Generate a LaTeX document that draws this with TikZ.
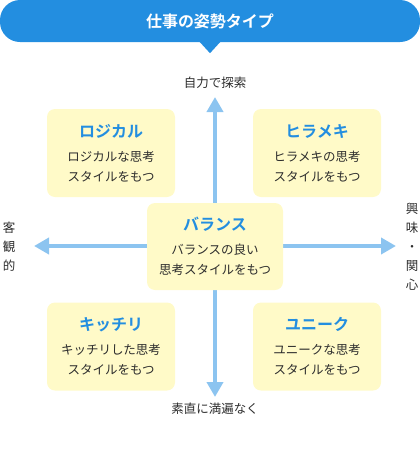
\documentclass[tikz,border=0pt]{standalone}
\usepackage{fontspec}
\setmainfont{Noto Sans CJK JP}[BoldFont={Noto Sans CJK JP Bold}]
\usepackage{xcolor}
\usepackage{tikz}
\usetikzlibrary{arrows.meta, positioning}
\definecolor{accent}{RGB}{35, 142, 224}
\definecolor{axisblue}{RGB}{140, 196, 240}
\definecolor{boxfill}{RGB}{255, 250, 200}
\definecolor{ink}{RGB}{45, 45, 45}
\newcommand{\qtitle}[1]{{\fontsize{16}{20}\selectfont\bfseries\color{accent}#1}}

\begin{document}
\begin{tikzpicture}[
    x=1pt, y=-1pt,
    quad/.style={
      rectangle, fill=boxfill, rounded corners=8pt,
      minimum width=128pt, minimum height=88pt, inner sep=0pt,
      text centered, font=\fontsize{12.5}{20}\selectfont,
      text=ink, align=center
    },
    banner/.style={
      rectangle, fill=accent, rounded corners=20pt,
      minimum width=420pt, minimum height=42pt,
      font=\fontsize{16}{20}\selectfont\bfseries, text=white
    },
    axis/.style={{Triangle[width=16pt, length=15pt]}-{Triangle[width=16pt, length=15pt]},
      line width=4pt, color=axisblue},
    side/.style={font=\fontsize{12.5}{19}\selectfont, text=ink, align=center}
  ]
  \useasboundingbox (0,0) rectangle (420,464);

  % ── Heading banner ─────────────────────────────────────────────
  \node[banner] (head) at (210,21) {仕事の姿勢タイプ};
  \fill[accent] ([xshift=-11pt, yshift=1pt]head.south) -- ([yshift=-11pt]head.south)
    -- ([xshift=11pt, yshift=1pt]head.south) -- cycle;

  % ── Axes ───────────────────────────────────────────────────────
  \coordinate (top) at (215,97);
  \coordinate (bot) at (215,397);
  \coordinate (lft) at (34,246);
  \coordinate (rgt) at (396,246);

  \draw[axis] (bot) -- (top);
  \draw[axis] (lft) -- (rgt);

  % ── Axis labels ────────────────────────────────────────────────
  \node[side] (up)    at (215,83)  {自力で探索};
  \node[side] (down)  at (215,409) {素直に満遍なく};
  \node[side] (obj)   at (9,247)   {客\\観\\的};
  \node[side] (inter) at (412,247) {興\\味\\・\\関\\心};

  % ── Quadrant boxes ─────────────────────────────────────────────
  \node[quad] (logic)   at (111,153) {\qtitle{ロジカル}\\[4pt]ロジカルな思考\\スタイルをもつ};
  \node[quad] (flash)   at (317,153) {\qtitle{ヒラメキ}\\[4pt]ヒラメキの思考\\スタイルをもつ};
  \node[quad, minimum width=136pt, minimum height=87pt]
              (balance) at (215,246.5) {\qtitle{バランス}\\[4pt]バランスの良い\\思考スタイルをもつ};
  \node[quad] (precise) at (111,346.5) {\qtitle{キッチリ}\\[4pt]キッチリした思考\\スタイルをもつ};
  \node[quad] (unique)  at (317,346.5) {\qtitle{ユニーク}\\[4pt]ユニークな思考\\スタイルをもつ};

  \end{tikzpicture}
\end{document}
